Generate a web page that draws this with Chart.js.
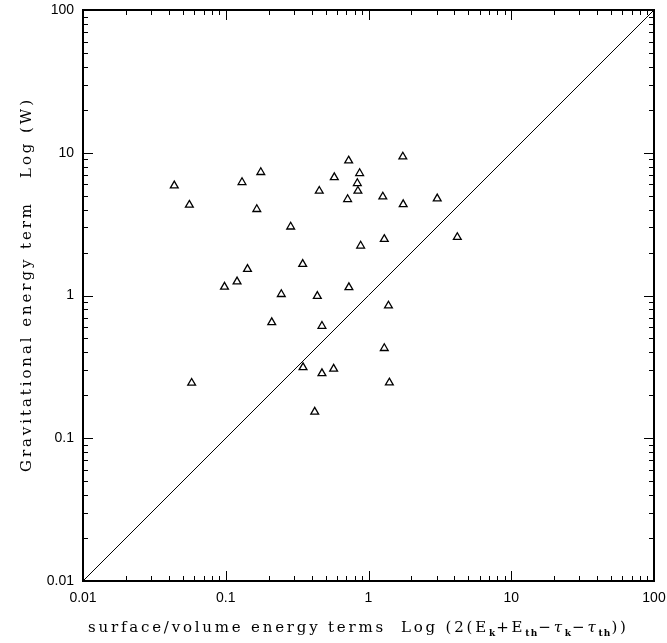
<!DOCTYPE html>
<html>
<head>
<meta charset="utf-8">
<script src="https://cdn.jsdelivr.net/npm/chart.js@4.4.1/dist/chart.umd.min.js"></script>
<style>
  html, body { margin: 0; padding: 0; background: #fff; }
</style>
</head>
<body>
<canvas id="chart" width="667" height="643"></canvas>
<script>
// surface/volume terms (x) and gravitational term (y)
const xValues = [0.0436, 0.0556, 0.176, 0.130, 0.165, 0.285, 0.726, 1.74, 0.576, 0.867,
  0.835, 0.843, 0.452, 0.714, 1.26, 1.75, 3.03, 0.881, 1.29, 4.19,
  0.346, 0.142, 0.120, 0.098, 0.245, 0.438, 0.729, 1.38, 0.210, 0.472,
  1.29, 0.348, 0.472, 0.570, 1.40, 0.0577, 0.420];
const yValues = [5.88, 4.31, 7.30, 6.21, 4.02, 3.03, 8.80, 9.38, 6.73, 7.18,
  6.11, 5.40, 5.40, 4.72, 4.92, 4.35, 4.77, 2.23, 2.48, 2.56,
  1.66, 1.53, 1.25, 1.15, 1.02, 0.99, 1.14, 0.848, 0.649, 0.611,
  0.427, 0.314, 0.285, 0.306, 0.245, 0.244, 0.153];

// equality line W = surface/volume
const diagX = [0.01, 100];

const tickValues = [0.01, 0.1, 1, 10, 100];
const tickLabels = ['0.01', '0.1', '1', '10', '100'];

const points = xValues.map((x, i) => ({ x: x, y: yValues[i] }));
const diag = diagX.map(v => ({ x: v, y: v }));

// minor tick positions 2..9 inside each decade
const minorTicks = [];
tickValues.slice(0, -1).forEach(d => {
  for (let k = 2; k <= 9; k++) minorTicks.push(d * k);
});

// [text, style] style: 0 normal, 1 subscript, 2 italic greek
const xTitle = [
  ['surface/volume energy terms  Log (2(E', 0], ['k', 1], ['+E', 0], ['th', 1],
  ['\u2212', 0], ['\u03c4', 2], ['k', 1], ['\u2212', 0], ['\u03c4', 2], ['th', 1], ['))', 0]
];
const yTitle = [['Gravitational energy term   Log (W)', 0]];

const serif = '"DejaVu Serif", "Liberation Serif", serif';
const fonts = ['15px ' + serif, 'bold 9px ' + serif, 'italic 15px ' + serif];

// draws a spaced-out title starting at x0 on baseline so that it spans `span` px
function drawSpaced(ctx, parts, x0, base, span) {
  let plain = 0, n = 0;
  parts.forEach(([t, s]) => {
    ctx.font = fonts[s];
    for (const ch of t) { plain += ctx.measureText(ch).width; n++; }
  });
  const sp = (span - plain) / (n - 1);
  let cx = x0;
  parts.forEach(([t, s]) => {
    ctx.font = fonts[s];
    const sub = s === 1;
    for (const ch of t) {
      ctx.fillText(ch, cx, sub ? base + 4 : base);
      cx += ctx.measureText(ch).width + (sub ? sp * 0.4 : sp);
    }
  });
}

const framePlugin = {
  id: 'frame',
  afterDraw(chart) {
    const { ctx, chartArea: a, scales: { x, y } } = chart;
    ctx.save();
    ctx.strokeStyle = '#000';
    ctx.lineWidth = 1;
    ctx.beginPath();
    const tick = (v, len) => {
      const px = Math.round(x.getPixelForValue(v)) + 0.5;
      const py = Math.round(y.getPixelForValue(v)) + 0.5;
      ctx.moveTo(px, a.bottom); ctx.lineTo(px, a.bottom - len);
      ctx.moveTo(px, a.top); ctx.lineTo(px, a.top + len);
      ctx.moveTo(a.left, py); ctx.lineTo(a.left + len, py);
      ctx.moveTo(a.right, py); ctx.lineTo(a.right - len, py);
    };
    minorTicks.forEach(v => tick(v, 5));
    tickValues.forEach(v => tick(v, 10));
    ctx.stroke();

    ctx.lineWidth = 2;
    ctx.strokeRect(a.left, a.top, a.right - a.left, a.bottom - a.top);

    ctx.fillStyle = '#000';
    ctx.textBaseline = 'alphabetic';
    ctx.textAlign = 'left';
    drawSpaced(ctx, xTitle, 88, 632, 548);

    ctx.save();
    ctx.translate(31, 472);
    ctx.rotate(-Math.PI / 2);
    drawSpaced(ctx, yTitle, 0, 0, 372);
    ctx.restore();
    ctx.restore();
  }
};

const axis = (pos, fit) => ({
  type: 'logarithmic',
  position: pos,
  min: 0.01,
  max: 100,
  grid: { display: false, drawTicks: false },
  border: { display: false },
  ticks: {
    color: '#000',
    font: { family: '"Liberation Sans", Arial, sans-serif', size: 14 },
    padding: 9,
    maxRotation: 0,
    autoSkip: false,
    callback: (v, i) => tickLabels[i]
  },
  afterBuildTicks: s => { s.ticks = tickValues.map(v => ({ value: v })); },
  afterFit: fit
});

new Chart(document.getElementById('chart'), {
  type: 'scatter',
  data: {
    datasets: [
      {
        data: points,
        pointStyle: 'triangle',
        pointRadius: 4.5,
        borderColor: '#000',
        borderWidth: 1.3,
        backgroundColor: 'rgba(0,0,0,0)'
      },
      {
        data: diag,
        showLine: true,
        pointRadius: 0,
        borderColor: '#000',
        borderWidth: 1,
        fill: false
      }
    ]
  },
  options: {
    responsive: false,
    animation: false,
    devicePixelRatio: 1,
    layout: { padding: { left: 0, top: 10, right: 13, bottom: 0 } },
    plugins: { legend: { display: false }, tooltip: { enabled: false } },
    scales: {
      x: axis('bottom', s => { s.height = 62; s.paddingLeft = 0; s.paddingRight = 0; }),
      y: axis('left', s => { s.width = 83; s.paddingTop = 0; s.paddingBottom = 0; })
    }
  },
  plugins: [framePlugin]
});
</script>
</body>
</html>
